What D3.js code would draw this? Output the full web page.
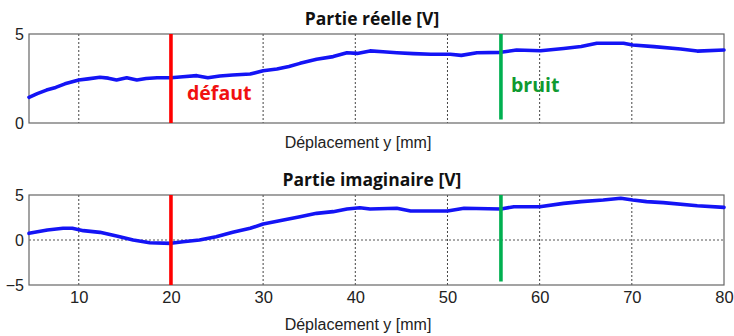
<!DOCTYPE html>
<html>
<head>
<meta charset="utf-8">
<script src="https://cdn.jsdelivr.net/npm/d3@7"></script>
<style>
  html, body { margin: 0; padding: 0; background: #fff; }
  svg { display: block; }
</style>
</head>
<body>
<svg id="chart" width="734" height="336"></svg>
<script>
// Displacement along y [mm]
const realX = [4.6, 5.5, 6.5, 7.5, 8.5, 10, 11, 12.3, 13.2, 14.1, 15.2, 16.3, 17.3, 18.5, 20, 21.3, 22.8, 24.0, 25.3, 26.7, 28.6, 30, 31.5, 32.8, 34.0, 35.8, 37.6, 39.1, 40.2, 41.6, 43, 44.5, 46.3, 48.2, 50.3, 51.5, 53.2, 55.8, 57.5, 60.1, 62.6, 64.5, 66.2, 69.1, 70.1, 72.4, 75.3, 77.1, 80];
// Real part of the signal [V]
const realV = [1.44, 1.65, 1.85, 2.0, 2.2, 2.42, 2.48, 2.57, 2.52, 2.42, 2.54, 2.42, 2.5, 2.54, 2.54, 2.6, 2.66, 2.54, 2.64, 2.70, 2.75, 2.94, 3.03, 3.18, 3.35, 3.58, 3.73, 3.95, 3.91, 4.05, 4.0, 3.95, 3.9, 3.86, 3.86, 3.80, 3.95, 3.97, 4.10, 4.06, 4.19, 4.30, 4.48, 4.48, 4.38, 4.29, 4.16, 4.04, 4.10];

const imagX = [4.6, 6.6, 8.3, 9.3, 10.5, 12.3, 14.1, 15.9, 17.7, 20, 21.3, 23.1, 24.9, 26.7, 28.6, 30, 32.2, 34, 35.8, 37.6, 39.1, 40.5, 41.6, 44.5, 46.0, 50.0, 51.8, 55.8, 57.2, 60, 62.6, 64.5, 66.9, 68.8, 70.1, 71.6, 73.4, 77.1, 80];
// Imaginary part of the signal [V]
const imagV = [0.74, 1.11, 1.30, 1.30, 1.04, 0.85, 0.44, 0.0, -0.30, -0.37, -0.19, 0.0, 0.37, 0.85, 1.30, 1.78, 2.22, 2.59, 2.96, 3.15, 3.44, 3.59, 3.44, 3.52, 3.22, 3.22, 3.52, 3.44, 3.70, 3.70, 4.07, 4.26, 4.44, 4.63, 4.44, 4.26, 4.15, 3.81, 3.63];

const xTicks = [10, 20, 30, 40, 50, 60, 70, 80];
const realYTicks = [0, 5];
const imagYTicks = [-5, 0, 5];

// Marker positions along y [mm]
const defautPos = 20;
const bruitPos = 55.8;

const svg = d3.select("#chart");
const left = 29, right = 724;

const x = d3.scaleLinear().domain([4.6, 80]).range([left, right]);

function panel(cfg) {
  const g = svg.append("g");
  const y = d3.scaleLinear().domain(cfg.yDomain).range([cfg.bottom, cfg.top]);

  // vertical grid
  g.selectAll("line.vgrid").data(xTicks.filter(t => t < 80)).join("line")
    .attr("class", "vgrid")
    .attr("x1", d => x(d)).attr("x2", d => x(d))
    .attr("y1", cfg.top).attr("y2", cfg.bottom)
    .attr("stroke", "#444").attr("stroke-width", 1)
    .attr("stroke-dasharray", "2,2");

  // horizontal grid (interior ticks only)
  g.selectAll("line.hgrid").data(cfg.yTicks.filter(t => t > cfg.yDomain[0] && t < cfg.yDomain[1])).join("line")
    .attr("class", "hgrid")
    .attr("x1", left).attr("x2", right)
    .attr("y1", d => y(d)).attr("y2", d => y(d))
    .attr("stroke", "#555").attr("stroke-width", 1)
    .attr("stroke-dasharray", "2,2");

  // axes box
  g.append("rect")
    .attr("x", left).attr("y", cfg.top)
    .attr("width", right - left).attr("height", cfg.bottom - cfg.top)
    .attr("fill", "none").attr("stroke", "#666").attr("stroke-width", 1.2);

  // y axis labels
  const ya = d3.axisLeft(y).tickValues(cfg.yTicks).tickSize(0).tickPadding(5).tickFormat(d3.format("d"));
  const yg = g.append("g").attr("transform", `translate(${left},0)`).call(ya);
  yg.select(".domain").remove();
  yg.selectAll("text").attr("font-family", "Liberation Sans, Arial, sans-serif")
    .attr("font-size", 16).attr("fill", "#222");

  // x axis labels
  if (cfg.xLabels) {
    const xa = d3.axisBottom(x).tickValues(xTicks).tickSize(0).tickPadding(6).tickFormat(d3.format("d"));
    const xg = g.append("g").attr("transform", `translate(0,${cfg.bottom})`).call(xa);
    xg.select(".domain").remove();
    xg.selectAll("text").attr("font-family", "Liberation Sans, Arial, sans-serif")
      .attr("font-size", 16.5).attr("fill", "#222");
  }

  // signal curve
  const line = d3.line().x(d => x(d[0])).y(d => y(d[1])).curve(d3.curveLinear);
  g.append("path")
    .datum(d3.zip(cfg.xs, cfg.vs))
    .attr("d", line)
    .attr("fill", "none").attr("stroke", "#1414f5").attr("stroke-width", 3.6)
    .attr("stroke-linejoin", "round").attr("stroke-linecap", "round");

  // defect marker
  g.append("line")
    .attr("x1", x(defautPos)).attr("x2", x(defautPos))
    .attr("y1", cfg.top).attr("y2", cfg.bottom)
    .attr("stroke", "#ff0000").attr("stroke-width", 3.6);

  // noise marker
  g.append("line")
    .attr("x1", x(bruitPos)).attr("x2", x(bruitPos))
    .attr("y1", cfg.top).attr("y2", cfg.bottom - 3.5)
    .attr("stroke", "#00b050").attr("stroke-width", 3.6);

  // title
  g.append("text")
    .attr("x", 372).attr("y", cfg.top - 9)
    .attr("text-anchor", "middle")
    .attr("font-family", "Open Sans, sans-serif").attr("font-weight", "bold")
    .attr("font-size", 17.5).attr("fill", "#111")
    .text(cfg.title);

  // x axis title
  g.append("text")
    .attr("x", 358).attr("y", cfg.xTitleY)
    .attr("text-anchor", "middle")
    .attr("font-family", "Liberation Sans, Arial, sans-serif")
    .attr("font-size", 16).attr("fill", "#222")
    .text("Déplacement y [mm]");

  return { g, y };
}

const realPanel = panel({
  top: 34, bottom: 123, yDomain: [0, 5], yTicks: realYTicks,
  xs: realX, vs: realV, title: "Partie réelle [V]", xLabels: false, xTitleY: 148
});

panel({
  top: 195, bottom: 285, yDomain: [-5, 5], yTicks: imagYTicks,
  xs: imagX, vs: imagV, title: "Partie imaginaire [V]", xLabels: true, xTitleY: 330
});

// annotations on the real-part panel
realPanel.g.append("text")
  .attr("x", 187).attr("y", 100)
  .attr("font-family", "Open Sans, sans-serif").attr("font-weight", "bold")
  .attr("font-size", 19.5).attr("fill", "#f01010")
  .text("défaut");

realPanel.g.append("text")
  .attr("x", 511).attr("y", 92)
  .attr("font-family", "Open Sans, sans-serif").attr("font-weight", "bold")
  .attr("font-size", 19.5).attr("fill", "#109a30")
  .text("bruit");
</script>
</body>
</html>
